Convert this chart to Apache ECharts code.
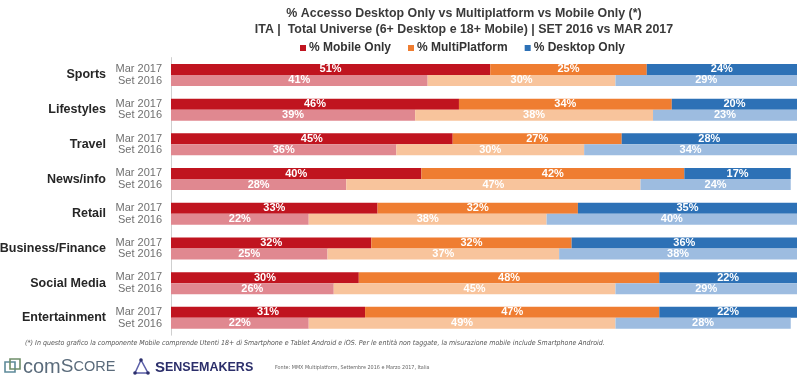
<!DOCTYPE html>
<html>
<head>
<meta charset="utf-8">
<script src="https://cdn.jsdelivr.net/npm/echarts@6/dist/echarts.min.js"></script>
<style>html,body{margin:0;padding:0;background:#fff;}#c{width:800px;height:386px;}</style>
</head>
<body>
<div id="c"></div>
<script>
var categories = ['Sports','Lifestyles','Travel','News/info','Retail','Business/Finance','Social Media','Entertainment'];
var periodLabels = ['Mar 2017','Set 2016'];
var seriesNames = ['% Mobile Only','% MultiPlatform','% Desktop Only'];
var mobileMar = [51,46,45,40,33,32,30,31];
var multiMar = [25,34,27,42,32,32,48,47];
var desktopMar = [24,20,28,17,35,36,22,22];
var mobileSet = [41,39,36,28,22,25,26,22];
var multiSet = [30,38,30,47,38,37,45,49];
var desktopSet = [29,23,34,24,40,38,29,28];

var colorsMar = ['#c0141f','#ef7d31','#2d71b6'];
var colorsSet = ['#e08890','#f8c49c','#9dbce0'];

var chart = echarts.init(document.getElementById('c'), null, {renderer:'canvas'});
var FONT = '"Liberation Sans", Arial, sans-serif';

function mk(name, data, stack, color) {
  return {
    type: 'bar', name: name, stack: stack, data: data,
    barWidth: 11, barGap: '0%', barCategoryGap: '0%',
    itemStyle: {color: color},
    label: {show: true, position: 'inside', formatter: '{c}%', color: '#fff',
            fontFamily: FONT, fontWeight: 'bold', fontSize: 11},
    emphasis: {disabled: true}
  };
}
var series = [
  mk(seriesNames[0], mobileMar, 'mar', colorsMar[0]),
  mk(seriesNames[1], multiMar, 'mar', colorsMar[1]),
  mk(seriesNames[2], desktopMar, 'mar', colorsMar[2]),
  mk(seriesNames[0], mobileSet, 'set', colorsSet[0]),
  mk(seriesNames[1], multiSet, 'set', colorsSet[1]),
  mk(seriesNames[2], desktopSet, 'set', colorsSet[2])
];

var option = {
  animation: false,
  textStyle: {fontFamily: FONT},
  title: {
    text: '% Accesso Desktop Only vs Multiplatform vs Mobile Only (*)\nITA |  Total Universe (6+ Desktop e 18+ Mobile) | SET 2016 vs MAR 2017',
    left: 459, top: 1, textAlign: 'center',
    textStyle: {fontFamily: FONT, fontSize: 12.4, fontWeight: 'bold', color: '#3a3a3a', lineHeight: 15.5}
  },
  legend: {
    data: seriesNames, left: 295, top: 37, icon: 'rect', itemWidth: 6, itemHeight: 6, itemGap: 17,
    selectedMode: false,
    textStyle: {fontFamily: FONT, fontSize: 12, fontWeight: 'bold', color: '#333', padding: [0,0,0,-2]}
  },
  grid: {left: 171, right: 3, top: 57.6, bottom: 50.8, containLabel: false, outerBoundsMode: 'none'},
  xAxis: {type: 'value', min: 0, max: 100, show: false},
  yAxis: [
    {type: 'category', data: categories, inverse: true,
     axisLine: {show: true, lineStyle: {color: '#cfcfcf'}}, axisTick: {show: false},
     axisLabel: {margin: 65, fontFamily: FONT, fontSize: 12.5, fontWeight: 'bold', color: '#262626'}},
    {type: 'category', data: categories, inverse: true, position: 'left',
     axisLine: {show: false}, axisTick: {show: false},
     axisLabel: {margin: 9, fontFamily: FONT, fontSize: 11, color: '#707070', lineHeight: 11.5,
       formatter: function(){ return periodLabels.join('\n'); }}}
  ],
  series: series,
  graphic: [
    {type: 'text', left: 25, top: 340, style: {text: '(*) In questo grafico la componente Mobile comprende Utenti 18+ di Smartphone e Tablet Android e iOS. Per le entità non taggate, la misurazione mobile include Smartphone Android.',
      font: 'italic 7px "Liberation Sans Narrow", "DejaVu Sans Condensed", sans-serif', fill: '#555'}},
    // comScore logo
    {type: 'rect', shape: {x: 5, y: 362, width: 10, height: 10}, style: {fill: 'none', stroke: '#5e8a9a', lineWidth: 1.6}},
    {type: 'rect', shape: {x: 10, y: 359, width: 10, height: 10}, style: {fill: 'none', stroke: '#6f8e6a', lineWidth: 1.6}},
    {type: 'text', left: 23, top: 357, style: {
      text: '{a|com}{b|S}{c|CORE}',
      rich: {a: {fontSize: 20, fontFamily: FONT, fill: '#5a6b7b'}, b: {fontSize: 19, fontFamily: FONT, fill: '#5a6b7b'}, c: {fontSize: 14.5, fontFamily: FONT, fill: '#5a6b7b'}}}},
    // Sensemakers logo
    {type: 'polygon', shape: {points: [[141,360],[135,373],[148,373]]}, style: {fill: 'none', stroke: '#5b5fa8', lineWidth: 1.5}},
    {type: 'circle', shape: {cx: 141, cy: 360, r: 1.8}, style: {fill: '#2c2f6b'}},
    {type: 'circle', shape: {cx: 135, cy: 373, r: 1.8}, style: {fill: '#2c2f6b'}},
    {type: 'circle', shape: {cx: 148, cy: 373, r: 1.8}, style: {fill: '#2c2f6b'}},
    {type: 'text', left: 155, top: 360, style: {
      text: '{a|S}{b|ENSEMAKERS}',
      rich: {a: {fontSize: 15, fontWeight: 'bold', fontFamily: FONT, fill: '#2c2f6b'}, b: {fontSize: 12.5, fontWeight: 'bold', fontFamily: FONT, fill: '#2c2f6b'}}}},
    {type: 'text', left: 275, top: 365, style: {text: 'Fonte: MMX Multiplatform, Settembre 2016 e Marzo 2017, Italia',
      font: '5.4px "Liberation Sans Narrow", "DejaVu Sans Condensed", sans-serif', fill: '#666'}}
  ]
};
chart.setOption(option);
</script>
</body>
</html>
